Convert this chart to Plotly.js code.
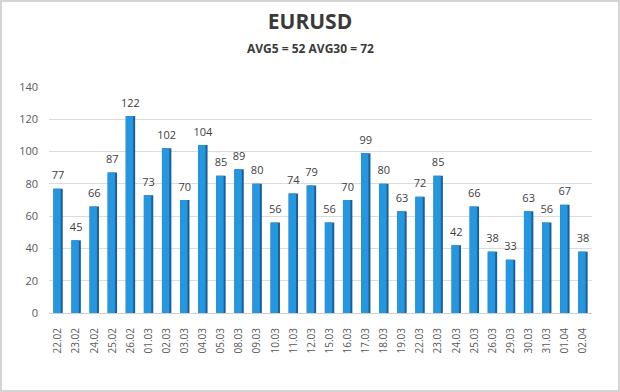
<!DOCTYPE html>
<html>
<head>
<meta charset="utf-8">
<script src="https://cdn.plot.ly/plotly-3.0.1.min.js"></script>
<style>
  html, body { margin: 0; padding: 0; background: #ffffff; }
  #wrap { position: relative; width: 620px; height: 392px; }
  #chart { width: 620px; height: 392px; }
  #frame { position: absolute; left: 0; top: 0; width: 620px; height: 392px; box-sizing: border-box; border: 2px solid #d4d4d4; pointer-events: none; }
</style>
</head>
<body>
<div id="wrap">
  <div id="chart"></div>
  <div id="frame"></div>
</div>
<script>
const categories = ["22.02","23.02","24.02","25.02","26.02","01.03","02.03","03.03","04.03","05.03",
  "08.03","09.03","10.03","11.03","12.03","15.03","16.03","17.03","18.03","19.03",
  "22.03","23.03","24.03","25.03","26.03","29.03","30.03","31.03","01.04","02.04"];
const values = [77,45,66,87,122,73,102,70,104,85,
  89,80,56,74,79,56,70,99,80,63,
  72,85,42,66,38,33,63,56,67,38];
const titleText = "EURUSD";
const subtitleText = "AVG5 = 52 AVG30 = 72";
const yTicks = [0,20,40,60,80,100,120,140];

const font = "'Open Sans', 'Noto Sans', sans-serif";

// dark side of each bar (full width)
const sideTrace = {
  type: "bar",
  x: categories,
  y: values,
  width: 0.52,
  offset: -0.26,
  marker: { color: "#1b5f96", line: { width: 0 } },
  hoverinfo: "x+y"
};
// bright front face
const faceTrace = {
  type: "bar",
  x: categories,
  y: values,
  width: 0.41,
  offset: -0.26,
  marker: { color: "#2596e0", line: { width: 0 } },
  hoverinfo: "skip"
};
// value labels above bars
const labelTrace = {
  type: "scatter",
  mode: "markers+text",
  x: categories,
  y: values,
  text: values.map(String),
  textposition: "top center",
  cliponaxis: false,
  marker: { size: 9, color: "rgba(0,0,0,0)" },
  textfont: { family: font, size: 11, color: "#404040" },
  hoverinfo: "skip"
};

const layout = {
  width: 620, height: 392,
  margin: { l: 49, r: 28, t: 87, b: 79 },
  paper_bgcolor: "#ffffff",
  plot_bgcolor: "#ffffff",
  barmode: "overlay",
  showlegend: false,
  title: {
    text: "<b>" + titleText + "</b>",
    font: { family: font, size: 21, color: "#3a3a3a" },
    xref: "container", x: 0.5, xanchor: "center", y: 0.945, yanchor: "middle"
  },
  annotations: [{
    text: "<b>" + subtitleText + "</b>",
    xref: "paper", yref: "paper", x: (310 - 49) / 543, xanchor: "center",
    y: 1 + (87 - 48) / 226, yanchor: "middle",
    showarrow: false,
    font: { family: font, size: 12, color: "#3a3a3a" }
  }],
  xaxis: {
    type: "category",
    range: [-0.5, categories.length - 0.5],
    tickangle: -90,
    tickfont: { family: font, size: 10, color: "#595959" },
    ticks: "", showgrid: false, showline: false, zeroline: false,
    ticklabelstandoff: 12
  },
  yaxis: {
    range: [0, 140],
    tickvals: yTicks,
    tickfont: { family: font, size: 11, color: "#595959" },
    showgrid: true, gridcolor: "#dcdcdc", gridwidth: 1,
    zeroline: true, zerolinecolor: "#d0d0d0", zerolinewidth: 1,
    showline: false, ticks: "",
    ticklabelstandoff: 10
  }
};

Plotly.newPlot("chart", [sideTrace, faceTrace, labelTrace], layout, { displayModeBar: false, staticPlot: true });
</script>
</body>
</html>
